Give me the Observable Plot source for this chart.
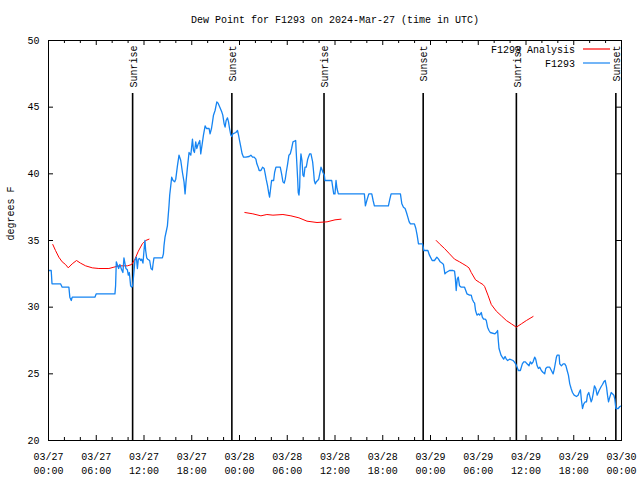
<!DOCTYPE html>
<html><head><meta charset="utf-8">
<script src="https://cdn.jsdelivr.net/npm/d3@7"></script>
<script src="https://cdn.jsdelivr.net/npm/@observablehq/plot@0.6"></script>
<style>body{margin:0;background:#fff}</style>
</head><body><div id="chart"></div>
<script>
const title = "Dew Point for F1293 on 2024-Mar-27 (time in UTC)";
const yLabel = "degrees F";
const seriesNames = ["F1293 Analysis", "F1293"];
const startUTC = Date.UTC(2024, 2, 27);
const endUTC = Date.UTC(2024, 2, 30);
const yTickValues = [20, 25, 30, 35, 40, 45, 50];

// F1293 observations: hours after 03/27 00:00 UTC, dew point (F)
const stationHours = [0.04,0.34,0.44,1.51,1.72,2.56,2.68,2.86,2.98,5.83,6.00,8.35,8.43,8.52,8.69,8.81,8.97,9.19,9.35,9.48,9.60,9.73,9.91,10.03,10.16,10.32,10.45,10.57,10.70,10.86,11.04,11.17,11.29,11.46,11.58,11.71,11.87,12.00,12.12,12.21,12.34,12.46,12.71,12.88,13.05,13.13,13.25,14.31,14.44,14.51,14.64,14.82,14.94,15.14,15.23,15.36,15.48,15.65,15.86,15.99,16.20,16.40,16.62,16.83,17.03,17.16,17.28,17.46,17.66,17.88,18.09,18.22,18.34,18.50,18.63,18.79,19.01,19.13,19.35,19.47,19.68,19.85,20.18,20.30,20.48,20.61,20.73,20.93,21.15,21.31,21.53,21.74,21.90,22.07,22.19,22.32,22.49,22.62,22.75,22.91,23.04,23.16,23.54,23.75,23.88,24.04,24.17,24.33,24.51,24.80,25.21,25.43,25.64,25.84,26.06,26.18,26.35,26.47,26.69,26.90,27.10,27.23,27.35,27.53,27.66,27.78,27.91,28.03,28.29,28.41,28.58,29.12,29.29,29.46,29.62,29.75,29.87,30.05,30.21,30.38,30.55,30.72,31.06,31.13,31.22,31.31,31.38,31.47,31.56,31.63,31.72,31.85,31.97,32.10,32.23,32.39,32.57,32.69,32.82,32.98,33.19,33.32,33.40,33.52,33.65,33.82,33.95,34.15,34.24,34.37,34.49,34.66,34.74,35.59,35.71,35.84,36.00,36.13,36.25,36.42,39.69,39.82,40.00,40.25,40.62,40.79,40.95,42.71,42.89,43.05,44.22,44.40,44.60,44.81,44.98,45.15,45.32,45.48,45.98,46.16,46.32,46.49,46.99,47.17,47.67,47.87,48.21,48.50,48.80,49.01,49.22,49.47,49.63,49.81,49.97,50.39,50.82,51.02,51.11,51.23,51.36,51.49,51.65,51.86,52.28,52.43,52.58,52.91,53.12,53.25,53.41,53.54,53.66,53.84,54.04,54.17,54.38,54.51,54.67,54.88,55.01,55.17,55.35,55.51,56.10,56.27,56.43,56.52,56.61,56.86,57.02,57.19,57.37,57.53,57.69,57.94,58.37,58.53,58.70,58.88,59.04,59.29,59.54,59.71,59.92,60.13,60.38,60.55,60.71,60.89,61.09,61.22,61.40,61.56,61.73,61.93,62.15,62.35,62.48,62.65,62.98,63.19,63.41,63.57,63.82,63.91,64.16,64.24,64.45,64.67,64.87,65.02,65.17,65.33,65.50,65.67,65.84,66.05,66.34,66.55,66.68,66.84,66.97,67.10,67.26,67.44,67.60,67.72,67.89,68.04,68.19,68.31,68.44,68.60,68.77,68.94,69.19,69.45,69.61,69.78,69.95,70.12,70.24,70.37,70.53,70.71,70.87,71.04,71.16,71.29,71.59,71.79,72.0];
const stationValues = [32.75,32.75,31.75,31.75,31.5,31.5,30.75,30.5,30.75,30.75,31.0,31.0,31.6,33.4,33.1,32.9,33.2,32.8,32.6,33.7,33.3,32.9,32.8,32.4,32.6,31.6,31.5,31.6,32.4,33.5,33.75,32.9,33.6,33.65,33.5,33.6,33.3,34.25,35.0,34.25,33.7,33.6,33.5,32.9,32.8,33.2,33.7,33.7,34.0,34.6,35.25,35.75,36.1,37.6,38.4,39.1,39.75,39.5,39.4,39.6,40.6,41.4,41.0,40.1,39.4,38.5,39.4,40.5,41.6,41.4,42.6,41.75,41.6,42.4,41.9,42.2,42.5,41.5,42.4,42.9,43.6,43.4,43.4,43.0,43.4,43.9,44.4,44.75,45.4,45.3,45.0,44.7,44.4,43.75,43.5,44.0,44.2,43.9,43.4,42.9,42.8,43.0,43.1,43.25,42.9,42.4,42.0,41.5,41.25,41.25,41.3,41.4,41.25,41.25,41.1,40.75,40.5,40.25,40.25,40.5,40.4,40.0,39.6,39.1,38.6,38.25,38.9,39.5,39.5,40.1,40.5,40.5,40.0,39.4,39.3,39.6,40.1,40.75,41.4,41.5,41.9,42.4,42.5,41.6,40.6,39.6,38.6,38.4,39.0,40.6,41.5,41.0,39.9,39.8,40.5,40.5,41.1,41.3,41.5,41.5,40.9,40.1,39.5,39.25,39.4,39.5,39.6,40.2,40.5,40.3,40.1,39.9,39.5,39.5,39.0,38.5,38.5,39.5,38.9,38.5,38.5,37.6,38.0,38.5,38.5,38.0,37.6,37.6,38.1,38.5,38.5,37.75,37.5,37.4,37.1,36.75,36.4,36.25,36.25,35.9,35.4,34.75,34.75,34.25,34.25,33.9,33.5,33.5,33.75,33.6,33.4,33.3,33.2,32.5,32.6,32.75,32.75,32.7,32.25,31.25,32.1,32.25,31.6,31.5,31.5,31.25,31.0,30.9,30.9,30.6,30.4,30.3,29.75,29.4,29.5,29.4,29.6,29.25,29.1,29.1,29.0,28.5,28.25,28.1,28.0,28.1,28.25,27.5,26.9,26.4,26.25,26.1,26.3,26.1,26.0,26.1,26.0,25.9,25.75,25.5,25.25,25.25,25.75,25.9,25.9,25.75,25.6,25.9,25.75,25.9,26.25,26.1,25.6,25.4,25.5,25.25,25.1,25.0,25.4,25.5,25.5,25.25,25.0,25.4,26.25,26.4,26.4,25.75,25.6,25.75,25.75,25.6,25.25,24.9,24.25,23.9,23.6,23.4,23.3,23.4,23.6,23.8,23.0,22.4,22.75,22.9,22.9,23.4,23.6,23.25,22.9,23.1,23.5,24.1,23.9,23.4,23.75,24.05,24.2,24.4,24.5,24.0,23.4,22.9,23.25,23.6,23.5,23.4,23.1,22.4,22.4,22.55,22.6];

// F1293 Analysis: three separate runs
const analysisRun = [1,1,1,1,1,1,1,1,1,1,1,1,1,1,1,1,1,1,1,1,1,1, 2,2,2,2,2,2,2,2,2,2,2,2,2, 3,3,3,3,3,3,3,3,3,3,3,3,3,3,3,3,3,3,3,3,3,3,3,3];
const analysisHours = [0.54,0.88,1.30,1.72,2.14,2.48,2.98,3.52,4.03,4.66,5.50,6.33,7.59,8.22,8.85,9.91,10.45,10.86,11.29,11.79,12.21,12.63,
  24.67,25.68,26.69,27.44,28.20,29.46,30.46,31.47,32.48,33.74,35.00,36.00,36.76,
  48.72,49.13,49.76,50.39,51.02,51.65,52.07,52.49,52.83,53.12,53.66,54.17,54.59,54.80,55.22,55.64,56.27,56.90,57.53,58.16,58.79,59.42,60.05,60.89];
const analysisValues = [34.7,34.25,33.75,33.4,33.2,32.95,33.25,33.5,33.3,33.1,32.95,32.9,32.9,33.0,33.1,33.1,33.2,33.6,34.2,34.75,35.0,35.1,
  37.1,37.0,36.85,36.95,36.9,36.95,36.85,36.7,36.45,36.35,36.4,36.55,36.6,
  35.0,34.75,34.4,34.0,33.6,33.4,33.25,33.1,32.95,32.6,32.05,31.85,31.7,31.55,30.9,30.2,29.7,29.35,29.0,28.75,28.5,28.75,29.0,29.3];

// Sun events (hours after 03/27 00:00 UTC)
const sunHours = [10.57, 23.04, 34.62, 47.08, 58.79, 71.29];
const sunLabels = ["Sunrise", "Sunset", "Sunrise", "Sunset", "Sunrise", "Sunset"];

const blue = "#1584f2";
const red = "#ff0000";
const toDate = h => new Date(startUTC + h * 3600e3);

const station = stationHours.map((h, i) => ({t: toDate(h), v: stationValues[i]}));
const analysis = analysisHours.map((h, i) => ({t: toDate(h), v: analysisValues[i], run: analysisRun[i]}));
const sun = sunHours.map((h, i) => ({t: toDate(h), label: sunLabels[i]}));
const labelTicks = d3.range(0, 73, 6).map(toDate);
const minorTicks = d3.range(0, 73, 2).filter(h => h % 6 !== 0).map(toDate);

const W = 640, H = 480, mL = 48, mR = 19, mT = 40, mB = 40;
const fw = W - mL - mR, fh = H - mT - mB;
const FONT = "'Liberation Mono', 'DejaVu Sans Mono', monospace";

const chart = Plot.plot({
  width: W, height: H,
  marginLeft: mL, marginRight: mR, marginTop: mT, marginBottom: mB,
  style: {fontFamily: FONT, fontSize: "10px", background: "white", color: "black"},
  x: {type: "utc", domain: [new Date(startUTC), new Date(endUTC)]},
  y: {domain: [20, 50]},
  marks: [
    Plot.ruleX(sun, {x: "t", insetTop: 53, stroke: "black", strokeWidth: 1.6}),
    Plot.text(sun, {x: "t", text: "label", frameAnchor: "top", rotate: -90, textAnchor: "end", lineAnchor: "middle", dy: 5, dx: 1}),
    Plot.line(analysis, {x: "t", y: "v", z: "run", stroke: red, strokeWidth: 1}),
    Plot.line(station, {x: "t", y: "v", stroke: blue, strokeWidth: 1.3}),
    Plot.frame({stroke: "black"}),
    Plot.tickX(labelTicks, {x: d => d, insetTop: fh - 5}),
    Plot.tickX(labelTicks, {x: d => d, insetBottom: fh - 5}),
    Plot.tickX(minorTicks, {x: d => d, insetTop: fh - 3}),
    Plot.tickX(minorTicks, {x: d => d, insetBottom: fh - 3}),
    Plot.tickY(yTickValues, {y: d => d, insetRight: fw - 5}),
    Plot.tickY(yTickValues, {y: d => d, insetLeft: fw - 5}),
    Plot.axisY({ticks: yTickValues, tickSize: 0, tickPadding: 9, label: null}),
    Plot.axisX({ticks: labelTicks, tickFormat: d3.utcFormat("%m/%d"), tickSize: 0, tickPadding: 12, label: null}),
    Plot.axisX({ticks: labelTicks, tickFormat: d3.utcFormat("%H:%M"), tickSize: 0, tickPadding: 26, label: null}),
    Plot.text([yLabel], {frameAnchor: "left", dx: -38, rotate: -90, lineAnchor: "middle"}),
    Plot.text([title], {frameAnchor: "top", dy: -21, lineAnchor: "middle"})
  ]
});
document.getElementById("chart").appendChild(chart);

// legend (top-right, inside the frame)
const svg = d3.select(chart);
const lg = svg.append("g").attr("font-family", FONT).attr("font-size", 10);
const legendColors = [red, blue];
seriesNames.forEach((name, i) => {
  const y = mT + 9 + i * 14;
  lg.append("text").attr("x", W - mR - 46).attr("y", y).attr("dy", "0.35em")
    .attr("text-anchor", "end").attr("fill", "black").text(name);
  lg.append("line").attr("x1", W - mR - 38).attr("x2", W - mR - 11)
    .attr("y1", y).attr("y2", y).attr("stroke", legendColors[i]).attr("stroke-width", 1.2);
});
</script>
</body></html>
